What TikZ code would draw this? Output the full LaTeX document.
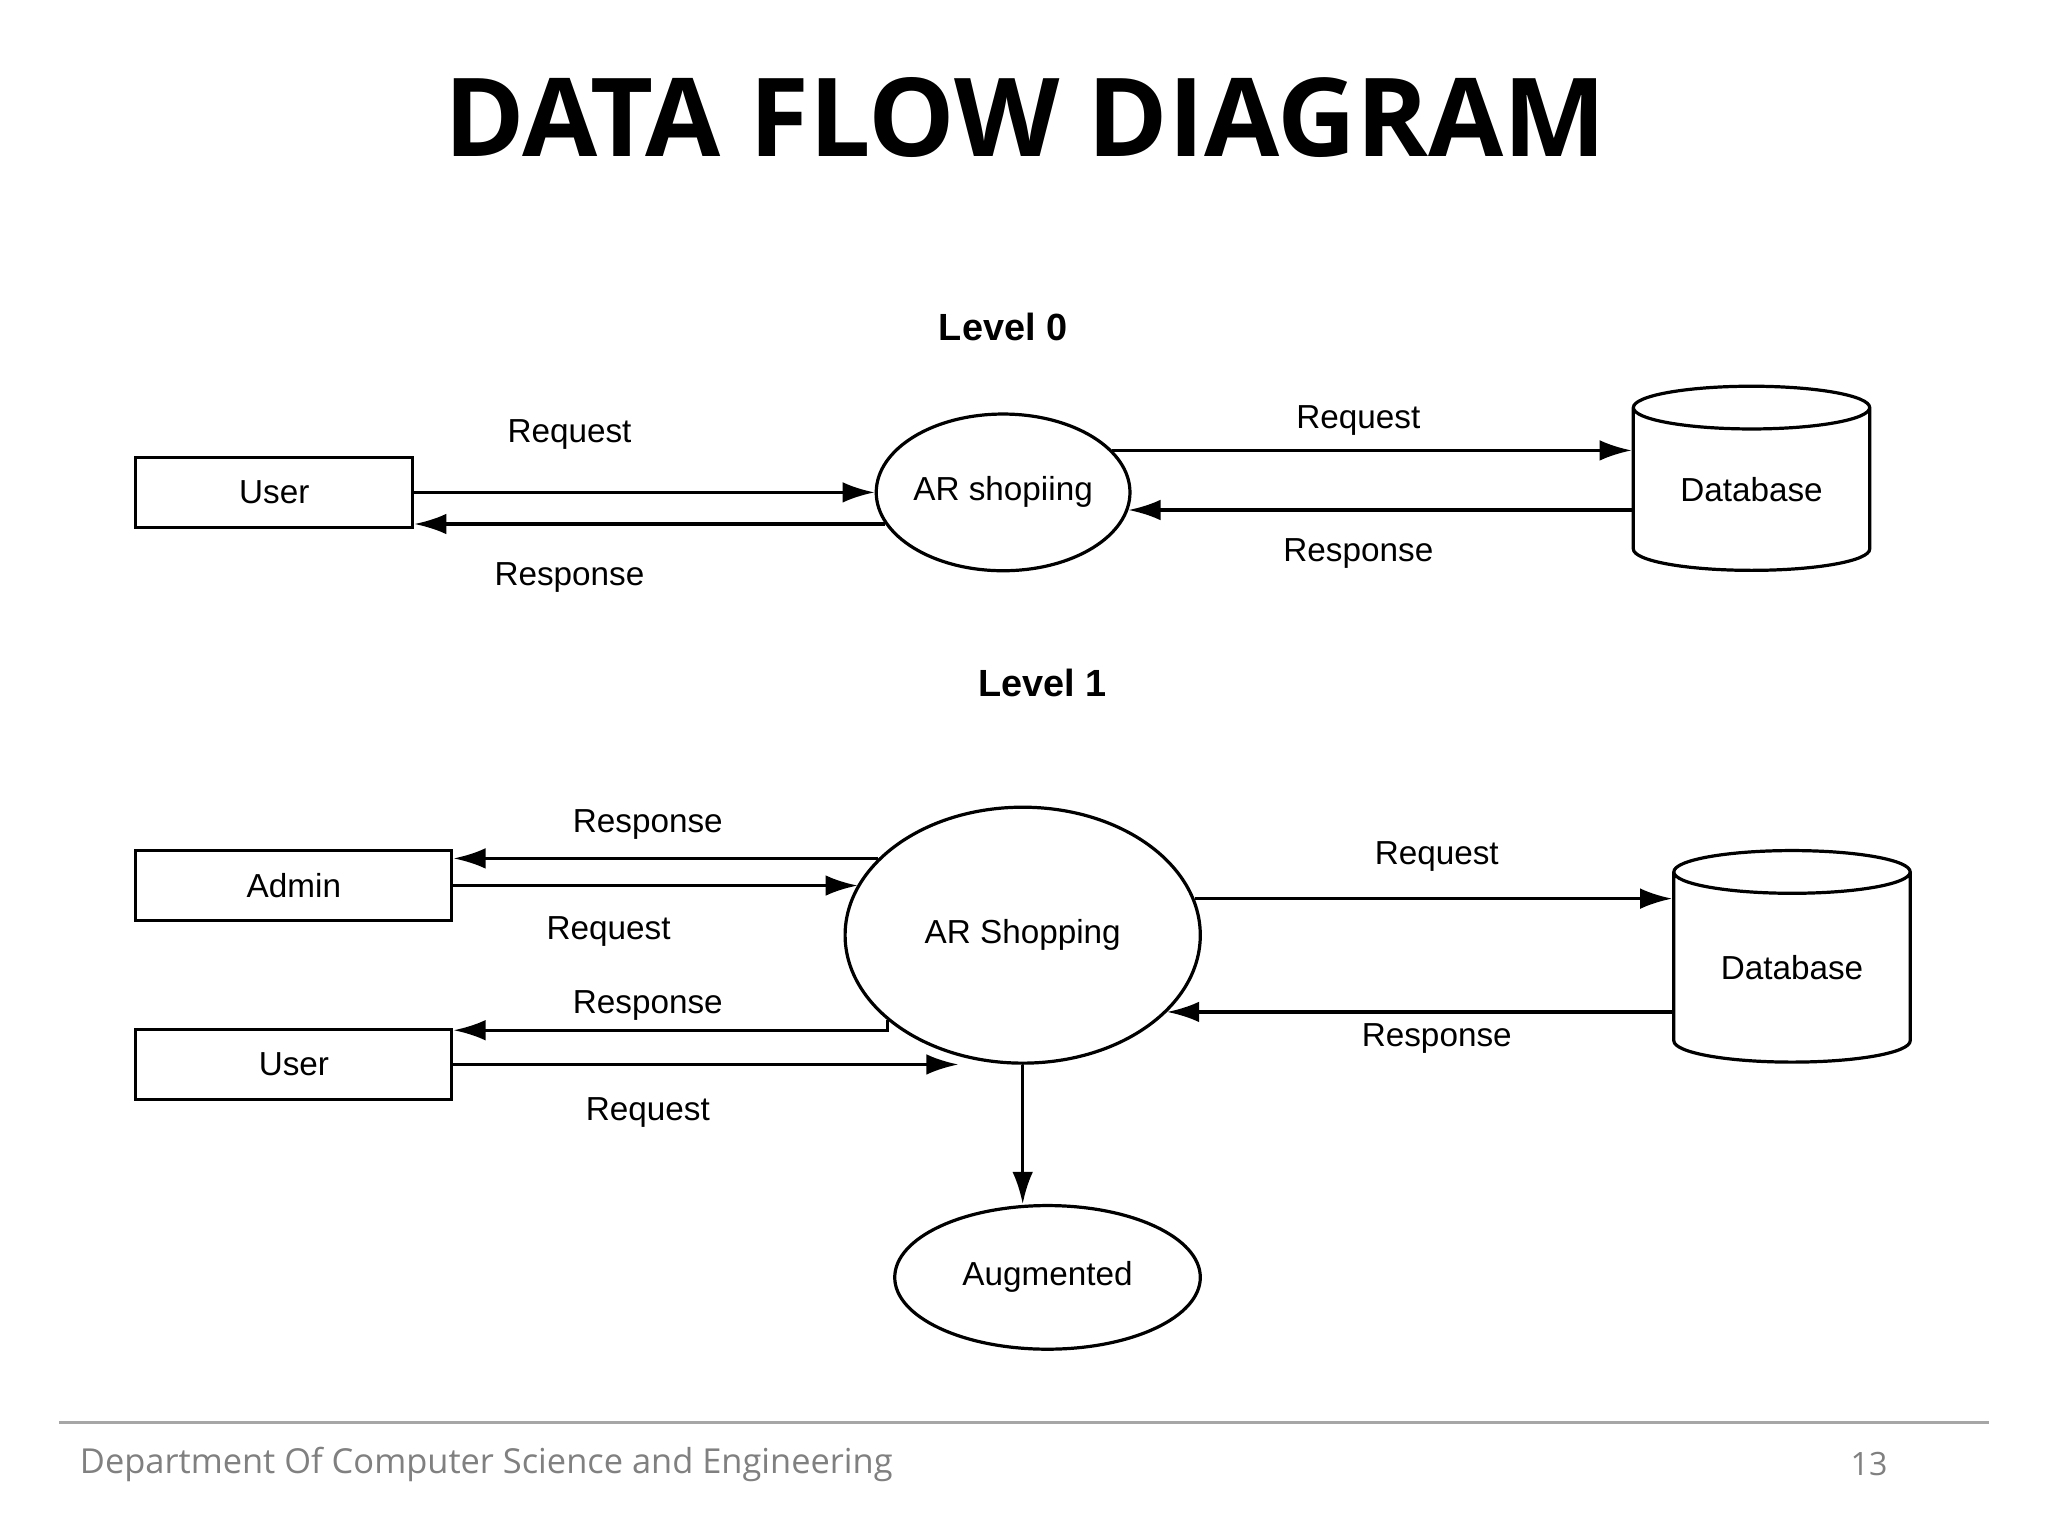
\documentclass[tikz,border=0pt]{standalone}
\usepackage{fontspec}
\setmainfont{Liberation Sans}
\newfontfamily\titlefont{Open Sans}
\usetikzlibrary{shapes.geometric,arrows.meta}
\begin{document}
\begin{tikzpicture}[x=0.02cm,y=0.02cm]
		\tikzset{
		myrect/.style={rectangle, draw=black, line width=1.4pt, minimum height=1.08cm, inner sep=0pt, font=\fontsize{14.5}{17}\selectfont},
		myellipse/.style={ellipse, draw=black, line width=1.4pt, inner sep=0pt, font=\fontsize{14.5}{17}\selectfont},
		mystore/.style={cylinder, shape border rotate=90, shape aspect=0.3, draw=black, line width=1.4pt, inner sep=0pt, minimum width=3.62cm, font=\fontsize{14.5}{17}\selectfont},
		mylabel/.style={font=\fontsize{14.5}{17}\selectfont},
		mylevel/.style={font=\fontsize{16.5}{20}\selectfont\bfseries},
		flow/.style={line width=1.4pt, -{Latex[length=14pt,width=9pt]}}
		}
		\useasboundingbox (0,0) rectangle (1568,1176);
		
		\node[font=\titlefont\fontsize{47.5}{54}\selectfont\bfseries] (title) at (785,1086) {DATA FLOW DIAGRAM};
		
		% level 0
		\node[mylevel] (lvl0) at (768,926) {Level 0};
		\node[myrect, minimum width=4.24cm] (user0) at (210,799) {User};
		\node[myellipse, minimum width=3.6cm, minimum height=2.4cm] (ar0) at (768,799) {AR shopiing};
		\node[mystore, minimum height=2.82cm] (db0) at (1341,801) {Database};
		
		\draw[flow] (user0.east) -- (user0.east -| ar0.west);
		\draw[flow] (ar0.195) -- (user0.east |- ar0.195);
		\draw[flow] (ar0.21) -- (db0.west |- ar0.21);
		\draw[flow] (db0.west |- ar0.-8) -- (ar0.-8);
		
		\node[mylabel] (req0a) at (436,843) {Request};
		\node[mylabel] (res0a) at (436,734) {Response};
		\node[mylabel] (req0b) at (1040,854) {Request};
		\node[mylabel] (res0b) at (1040,752) {Response};
		
		% level 1
		\node[mylevel] (lvl1) at (798,653) {Level 1};
		\node[myrect, minimum width=4.84cm] (admin) at (225,498) {Admin};
		\node[myrect, minimum width=4.84cm] (user1) at (225,361) {User};
		\node[myellipse, minimum width=5.44cm, minimum height=3.92cm] (ar1) at (783,460) {AR Shopping};
		\node[mystore, minimum height=3.24cm] (db1) at (1372,435) {Database};
		\node[myellipse, minimum width=4.68cm, minimum height=2.2cm] (aug) at (802,198) {Augmented};
		
		\draw[flow] (ar1.152) -- (admin.east |- ar1.152);
		\draw[flow] (admin.east) -- (admin.east -| ar1.163);
		\draw[flow] (ar1.212) |- ([yshift=-0.04cm]user1.north east);
		\draw[flow] (user1.east) -- (user1.east -| ar1.242);
		\draw[flow] (ar1.12) -- (db1.west |- ar1.12);
		\draw[flow] (db1.west |- ar1.-28) -- (ar1.-28);
		\draw[flow] (ar1.south) -- (ar1.south |- aug.north);
		
		\node[mylabel] (res1a) at (496,545) {Response};
		\node[mylabel] (req1a) at (466,463) {Request};
		\node[mylabel] (res1b) at (496,406) {Response};
		\node[mylabel] (req1b) at (496,324) {Request};
		\node[mylabel] (req1c) at (1100,520) {Request};
		\node[mylabel] (res1c) at (1100,381) {Response};
		
		% footer
		\coordinate (fl) at (45,87);
		\coordinate (fr) at (1523,87);
		\draw[gray!70, line width=1pt] (fl) -- (fr);
		\node[anchor=west, text=gray, font=\titlefont\fontsize{15}{18}\selectfont] (dept) at (55,55) {Department Of Computer Science and Engineering};
		\node[text=gray, font=\titlefont\fontsize{14}{17}\selectfont] (page) at (1431,55) {13};
		
\end{tikzpicture}
\end{document}
